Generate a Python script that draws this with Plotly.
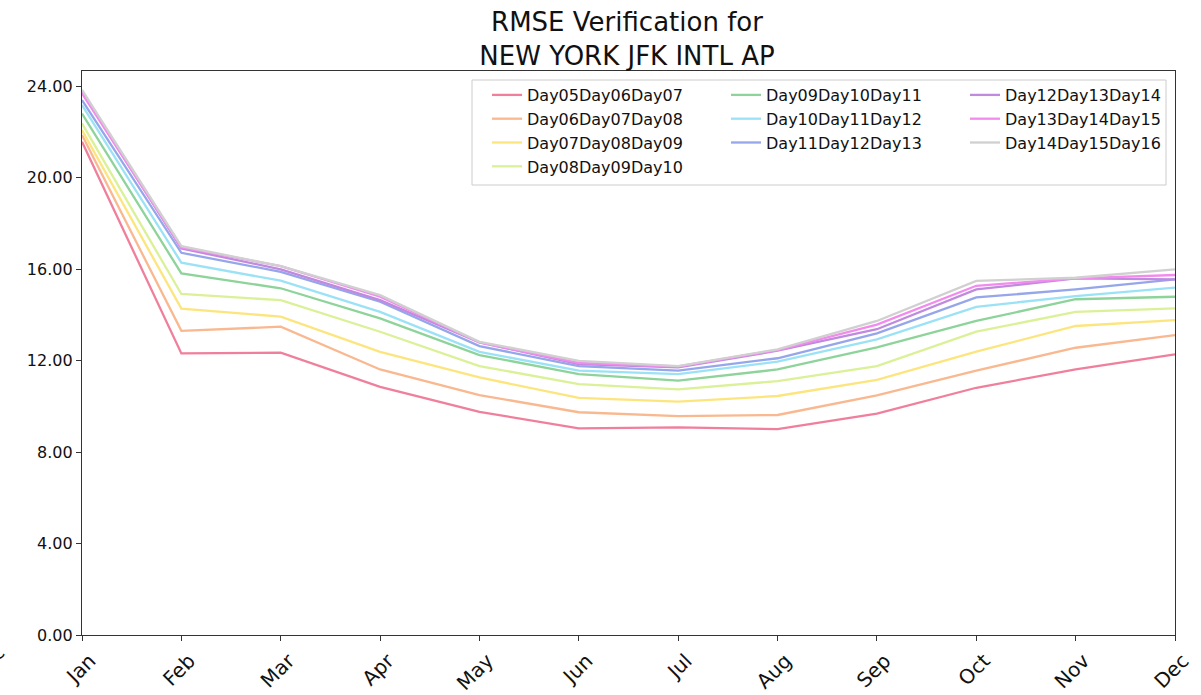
import plotly.graph_objects as go

months = ["Jan", "Feb", "Mar", "Apr", "May", "Jun", "Jul", "Aug", "Sep", "Oct", "Nov", "Dec"]

series_names = ["Day05Day06Day07", "Day06Day07Day08", "Day07Day08Day09", "Day08Day09Day10",
                "Day09Day10Day11", "Day10Day11Day12", "Day11Day12Day13",
                "Day12Day13Day14", "Day13Day14Day15", "Day14Day15Day16"]

day05 = [21.57, 12.31, 12.34, 10.85, 9.76, 9.03, 9.08, 9.00, 9.68, 10.81, 11.61, 12.27]
day06 = [21.86, 13.30, 13.48, 11.61, 10.49, 9.74, 9.57, 9.62, 10.48, 11.56, 12.56, 13.11]
day07 = [22.08, 14.27, 13.92, 12.38, 11.26, 10.37, 10.20, 10.45, 11.16, 12.39, 13.51, 13.77]
day08 = [22.37, 14.91, 14.64, 13.26, 11.76, 10.97, 10.74, 11.10, 11.76, 13.26, 14.13, 14.28]
day09 = [22.80, 15.81, 15.16, 13.84, 12.24, 11.41, 11.12, 11.61, 12.58, 13.73, 14.68, 14.79]
day10 = [23.17, 16.28, 15.49, 14.13, 12.38, 11.56, 11.41, 11.95, 12.93, 14.35, 14.82, 15.19]
day11 = [23.39, 16.71, 15.88, 14.57, 12.63, 11.76, 11.56, 12.10, 13.19, 14.76, 15.11, 15.55]
day12 = [23.75, 16.90, 15.99, 14.64, 12.79, 11.85, 11.70, 12.43, 13.37, 15.11, 15.59, 15.55]
day13 = [23.68, 16.95, 16.13, 14.79, 12.79, 11.90, 11.74, 12.46, 13.57, 15.27, 15.59, 15.74]
day14 = [23.83, 17.00, 16.13, 14.86, 12.82, 11.99, 11.76, 12.49, 13.73, 15.48, 15.62, 15.99]

all_values = [day05, day06, day07, day08, day09, day10, day11, day12, day13, day14]

colors = ["#f07f9c", "#f9b88f", "#fde57e", "#daf197", "#8ed39a",
          "#9be2f6", "#95a6ea", "#c08ade", "#f38bef", "#d0d0d0"]

legend_ids = ["legend", "legend", "legend", "legend",
              "legend2", "legend2", "legend2",
              "legend3", "legend3", "legend3"]

FONT = "DejaVu Sans"
W, H = 1201, 695
ML, MR, MT, MB = 82, 26, 71, 60
PW, PH = W - ML - MR, H - MT - MB

def px_x(p):
    return (p - ML) / PW

def px_y(p):
    return (H - MB - p) / PH

fig = go.Figure()
x_idx = list(range(len(months)))
for name, vals, col, lg in zip(series_names, all_values, colors, legend_ids):
    fig.add_trace(go.Scatter(
        x=x_idx, y=vals, mode="lines", name=name,
        line=dict(color=col, width=2.3),
        legend=lg,
    ))

legend_common = dict(
    font=dict(family=FONT, size=16, color="#111"),
    bgcolor="rgba(0,0,0,0)", borderwidth=0,
    xanchor="left", yanchor="top", orientation="v",
    tracegroupgap=0,
)

fig.update_layout(
    width=W, height=H,
    margin=dict(l=ML, r=MR, t=MT, b=MB, pad=0, autoexpand=False),
    paper_bgcolor="white", plot_bgcolor="white",
    font=dict(family=FONT, color="#111"),
    title=dict(
        text="RMSE Verification for<br>NEW YORK JFK INTL AP",
        font=dict(family=FONT, size=26, color="#111"),
        x=px_x(627), xref="paper", xanchor="center",
        y=1 - 31 / H, yref="container", yanchor="top",
        automargin=False,
    ),
    showlegend=True,
    legend=dict(x=px_x(487), y=px_y(78), **legend_common),
    legend2=dict(x=px_x(726), y=px_y(78), **legend_common),
    legend3=dict(x=px_x(965), y=px_y(78), **legend_common),
    xaxis=dict(
        range=[0, len(months) - 1],
        tickmode="array", tickvals=x_idx, ticktext=months,
        tickangle=-45, tickfont=dict(family=FONT, size=20, color="#111"),
        ticks="outside", ticklen=5, tickcolor="#333", tickwidth=1,
        ticklabelshift=8, ticklabeloverflow="allow",
        automargin=False,
        showline=True, linecolor="#333", linewidth=1.3, mirror=True,
        showgrid=False, zeroline=False,
    ),
    yaxis=dict(
        range=[0, 24.66],
        tickmode="linear", tick0=0, dtick=4, tickformat=".2f",
        tickfont=dict(family=FONT, size=16, color="#111"),
        ticks="outside", ticklen=5, tickcolor="#333", tickwidth=1,
        automargin=False,
        showline=True, linecolor="#333", linewidth=1.3, mirror=True,
        showgrid=False, zeroline=False,
    ),
    shapes=[dict(
        type="rect", xref="paper", yref="paper",
        x0=px_x(472), x1=px_x(1166), y0=px_y(185), y1=px_y(80),
        line=dict(color="#cccccc", width=1), fillcolor="rgba(255,255,255,0.8)",
        layer="above",
    )],
    annotations=[dict(
        text=months[-1], x=px_x(-13), xref="paper", y=px_y(663), yref="paper",
        textangle=-45, xanchor="center", yanchor="middle", showarrow=False,
        font=dict(family=FONT, size=20, color="#111"),
    )],
)

fig.write_html("out.html")
